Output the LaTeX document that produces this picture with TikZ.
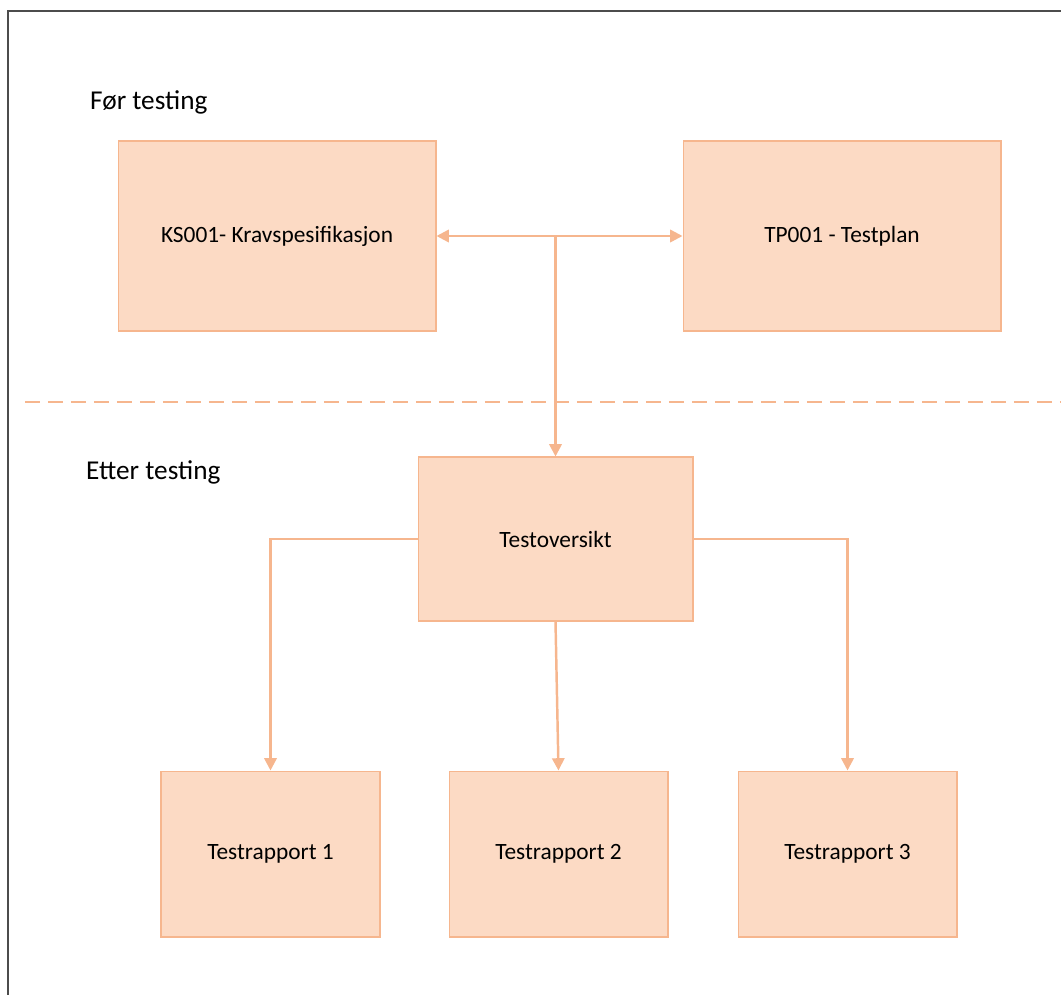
\documentclass[tikz,border=0pt]{standalone}
\usepackage{fontspec}
\setmainfont{Carlito}
\usetikzlibrary{positioning, arrows.meta}

\definecolor{peachfill}{RGB}{252,218,196}
\definecolor{peachline}{RGB}{246,182,142}

\begin{document}
\begin{tikzpicture}[x=0.02cm, y=-0.02cm,
	box/.style={draw=peachline, fill=peachfill, line width=0.6pt, font=\fontsize{13.3}{15}\selectfont},
	heading/.style={anchor=west, font=\fontsize{15.5}{18}\selectfont},
	link/.style={draw=peachline, line width=1.4pt, -{Triangle[width=7pt,length=7pt]}}]
	\clip (0,0) rectangle (1061,994);

	% frame round the page
	\draw[black!70, line width=1.4pt] (8,11) rectangle (1100,1030);

	\node[heading] (before) at (84,102) {Før testing};
	\node[heading] (after) at (80,472) {Etter testing};

	\node[box, minimum width=6.36cm, minimum height=3.8cm] (ks) at (277,236) {KS001- Kravspesifikasjon};
	\node[box, minimum width=6.36cm, minimum height=3.8cm] (tp) at (842,236) {TP001 - Testplan};
	\node[box, minimum width=5.5cm, minimum height=3.28cm] (overview) at (555.5,539) {Testoversikt};

	\node[box, minimum width=4.38cm, minimum height=3.32cm] (r1) at (270.5,854) {Testrapport 1};
	\node[box, minimum width=4.38cm, minimum height=3.32cm] (r2) at (558.5,854) {Testrapport 2};
	\node[box, minimum width=4.38cm, minimum height=3.32cm] (r3) at (847.5,854) {Testrapport 3};

	% before/after separator
	\coordinate (sepL) at (25,402);
	\coordinate (sepR) at (1061,402);
	\draw[peachline, line width=1.2pt, dash pattern=on 0.3cm off 0.16cm] (sepL) -- (sepR);

	\draw[link, {Triangle[width=7pt,length=7pt]}-{Triangle[width=7pt,length=7pt]}] (ks.east) -- (tp.west);
	\draw[link] (overview.north |- ks.east) -- (overview.north);
	\draw[link] (overview.west) -| (r1.north);
	\draw[link] (overview.south) -- (r2.north);
	\draw[link] (overview.east) -| (r3.north);
\end{tikzpicture}
\end{document}
